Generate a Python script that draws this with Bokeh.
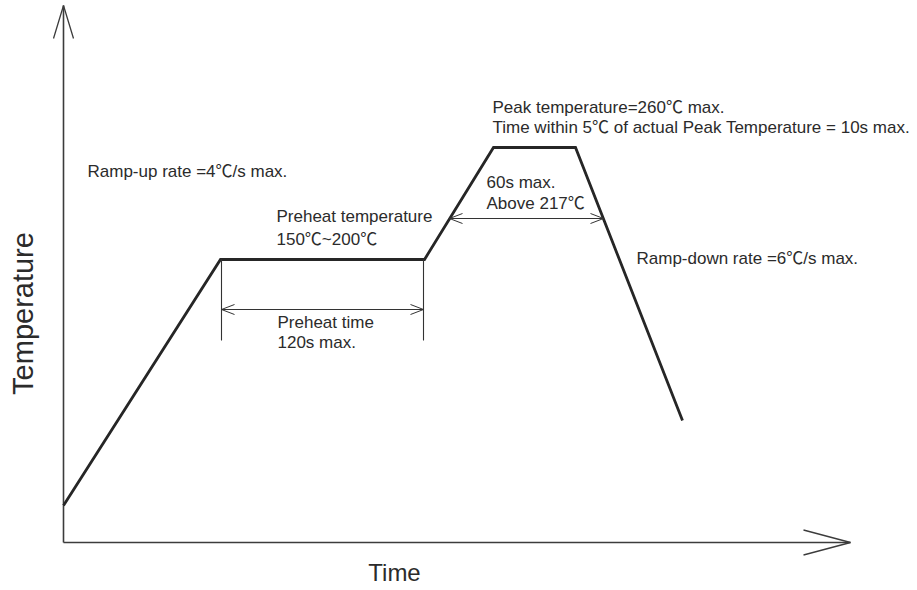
import numpy as np
from bokeh.plotting import figure
from bokeh.models import Range1d
from bokeh.embed import file_html
from bokeh.resources import INLINE
from bokeh.core.properties import value

# ---------------- data (schematic units: time / temperature) ----------------
profile_time = [0, 157, 361, 430, 512, 619]
profile_temp = [37, 283, 283, 395, 395, 122]

axis_time_end = 787
axis_temp_end = 537

preheat_start = 158
preheat_end = 360
preheat_guide_bottom = 202
preheat_arrow_temp = 233

above217_start = 386
above217_end = 540
above217_temp = 324

x_title = "Time"
y_title = "Temperature"
ramp_up_text = ["Ramp-up rate =4℃/s max."]
preheat_temp_text = ["Preheat temperature", "150℃~200℃"]
preheat_time_text = ["Preheat time", "120s max."]
above217_text = ["60s max.", "Above 217℃"]
peak_text = ["Peak temperature=260℃ max.",
             "Time within 5℃ of actual Peak Temperature = 10s max."]
ramp_down_text = ["Ramp-down rate =6℃/s max."]

# ---------------- figure ----------------
W, H = 917, 590
X0, Y0 = 63, 542   # where the axes cross, in canvas pixels
p = figure(width=W, height=H, output_backend="svg", toolbar_location=None,
           x_range=Range1d(-X0, W - X0), y_range=Range1d(Y0 - H, Y0),
           min_border=0, x_axis_location=None, y_axis_location=None)
p.grid.visible = False
p.outline_line_color = None
p.background_fill_color = "white"
p.border_fill_color = "white"

FONT = value("'Liberation Sans', 'Noto Sans CJK SC', sans-serif")
TXT = "#2b2b2b"
AX = "#3c3c3c"

# axes with open arrow heads
p.line([0, 0], [0, axis_temp_end], line_color=AX, line_width=1.6)
p.line([0, axis_time_end], [0, 0], line_color=AX, line_width=1.6)
ya_len, ya_half = 33, 10
xa_len, xa_half = 47, 12.5
p.multi_line(
    xs=[[-ya_half, 0, ya_half], [axis_time_end - xa_len, axis_time_end, axis_time_end - xa_len]],
    ys=[[axis_temp_end - ya_len, axis_temp_end, axis_temp_end - ya_len], [xa_half, 0, -xa_half]],
    line_color=AX, line_width=1.3)

# reflow profile
p.line(profile_time, profile_temp, line_color="#262626", line_width=2.8, line_join="miter")

# preheat guides
ANN = "#333333"
p.multi_line(xs=[[preheat_start, preheat_start], [preheat_end, preheat_end]],
             ys=[[profile_temp[1], preheat_guide_bottom], [profile_temp[2], preheat_guide_bottom]],
             line_color=ANN, line_width=1.1)


def double_arrow(x0, x1, yv, hl=13, hw=5):
    p.line([x0, x1], [yv, yv], line_color=ANN, line_width=1.0)
    p.multi_line(xs=[[x0 + hl, x0, x0 + hl], [x1 - hl, x1, x1 - hl]],
                 ys=[[yv + hw, yv, yv - hw], [yv + hw, yv, yv - hw]],
                 line_color=ANN, line_width=1.0)


double_arrow(preheat_start, preheat_end, preheat_arrow_temp)
double_arrow(above217_start, above217_end, above217_temp)


def block(lines, x, y0, step=21, size="17px"):
    ys = [y0 - i * step for i in range(len(lines))]
    p.text(x=[x] * len(lines), y=ys, text=lines, text_font=FONT,
           text_font_size=size, text_color=TXT, text_align="left",
           text_baseline="alphabetic")


block(ramp_up_text, 24, 371)
block(preheat_temp_text, 213, 326, step=23)
block(preheat_time_text, 214, 220, step=20)
block(above217_text, 423, 360)
block(peak_text, 429, 435, step=20)
block(ramp_down_text, 573, 284)

# axis titles
p.text(x=[331], y=[-30], text=[x_title], text_font=FONT, text_font_size="24px",
       text_color=TXT, text_align="center", text_baseline="middle")
p.text(x=[-41], y=[229], text=[y_title], text_font=FONT, text_font_size="29px",
       text_color=TXT, text_align="center", text_baseline="middle", angle=np.pi / 2)

open("out.html", "w").write(file_html(p, INLINE))
